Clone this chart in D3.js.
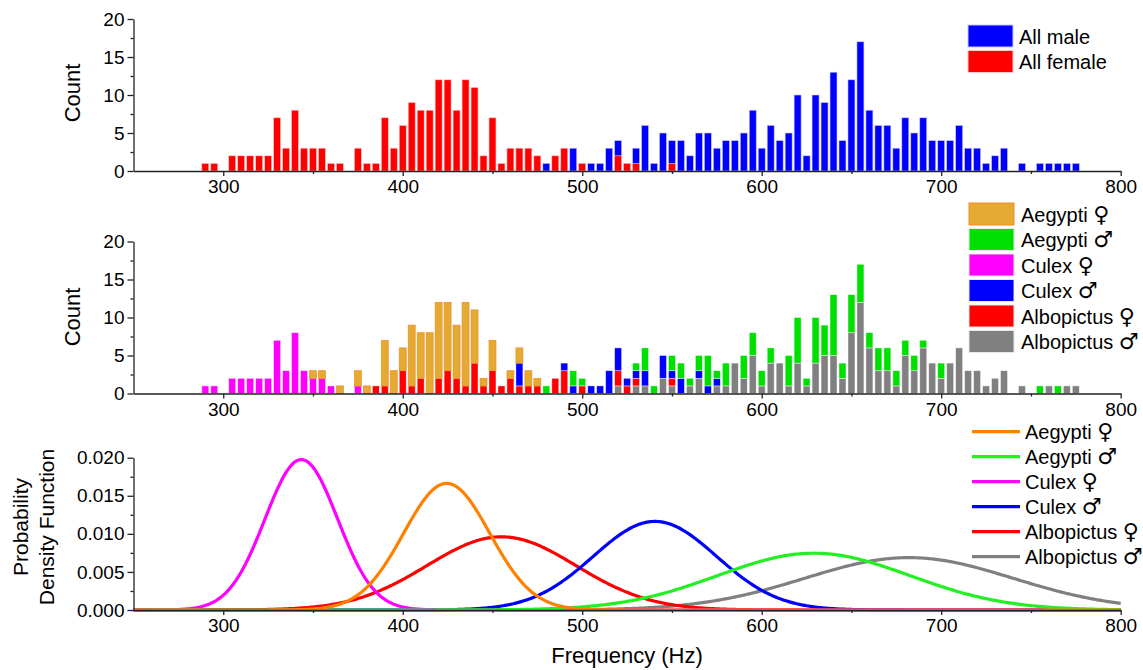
<!DOCTYPE html>
<html>
<head>
<meta charset="utf-8">
<script src="https://cdn.jsdelivr.net/npm/d3@7"></script>
<style>
  body { margin: 0; background: #fff; }
  svg text { font-family: Arial, "Liberation Sans", sans-serif; fill: #000; }
  .axis path, .axis line { stroke: #222; stroke-width: 1.3; }
  .axis text { font-size: 19px; font-family: Arial, "Liberation Sans", sans-serif; fill: #000; }
  .sym { font-family: "DejaVu Sans", sans-serif; }
</style>
</head>
<body>
<svg id="chart" width="1143" height="670"></svg>
<script>
// histogram bins (centre, Hz), 5 Hz wide, 250..795
var bins = d3.range(250, 800, 5);

// top panel, counts read per bin (rows of 10 bins = 50 Hz)
var allFemale = [
  0,0,0,0,0,0,0,0,1,1,
  0,2,2,2,2,2,7,3,8,3,
  3,3,1,1,0,3,1,1,7,3,
  6,9,8,8,12,12,8,12,11,2,
  7,1,3,3,3,2,0,2,3,0,
  1,0,0,0,2,1,1,0,0,0,
  1,0,0,0,0,0,0,0,0,0,
  0,0,0,0,0,0,0,0,0,0,
  0,0,0,0,0,0,0,0,0,0,
  0,0,0,0,0,0,0,0,0,0,
  0,0,0,0,0,0,0,0,0,0
];
var allMale = [
  0,0,0,0,0,0,0,0,0,0,
  0,0,0,0,0,0,0,0,0,0,
  0,0,0,0,0,0,0,0,0,0,
  0,0,0,0,0,0,0,0,0,0,
  0,0,0,3,0,0,1,0,1,3,
  1,1,1,3,4,1,3,6,1,5,
  4,4,2,5,5,3,4,4,5,8,
  3,6,4,5,10,2,10,9,13,4,
  12,17,8,6,6,3,7,5,7,4,
  4,4,6,3,3,1,2,3,0,1,
  0,1,1,1,1,1,0,0,0,0
];

// middle panel, per species
var aegyptiF = [
  0,0,0,0,0,0,0,0,0,0,
  0,0,0,0,0,0,0,0,0,0,
  1,1,0,1,0,2,1,0,6,3,
  3,8,6,8,10,9,7,11,7,1,
  4,0,1,2,2,1,0,0,0,0,
  0,0,0,0,0,0,0,0,0,0,
  0,0,0,0,0,0,0,0,0,0,
  0,0,0,0,0,0,0,0,0,0,
  0,0,0,0,0,0,0,0,0,0,
  0,0,0,0,0,0,0,0,0,0,
  0,0,0,0,0,0,0,0,0,0
];
var aegyptiM = [
  0,0,0,0,0,0,0,0,0,0,
  0,0,0,0,0,0,0,0,0,0,
  0,0,0,0,0,0,0,0,0,0,
  0,0,0,0,0,0,0,0,0,0,
  0,0,0,0,0,0,1,0,0,2,
  1,0,0,0,0,0,1,3,1,0,
  2,2,1,2,4,1,3,0,3,3,
  2,2,0,4,6,1,6,4,8,2,
  5,5,2,3,3,2,2,2,1,0,
  2,0,0,0,0,0,0,0,0,0,
  0,1,0,1,0,0,0,0,0,0
];
var culexF = [
  0,0,0,0,0,0,0,0,1,1,
  0,2,2,2,2,2,7,3,8,3,
  2,2,1,0,0,1,0,0,0,0,
  0,0,0,0,0,0,0,0,0,0,
  0,0,0,0,0,0,0,0,0,0,
  0,0,0,0,0,0,0,0,0,0,
  0,0,0,0,0,0,0,0,0,0,
  0,0,0,0,0,0,0,0,0,0,
  0,0,0,0,0,0,0,0,0,0,
  0,0,0,0,0,0,0,0,0,0,
  0,0,0,0,0,0,0,0,0,0
];
var culexM = [
  0,0,0,0,0,0,0,0,0,0,
  0,0,0,0,0,0,0,0,0,0,
  0,0,0,0,0,0,0,0,0,0,
  0,0,0,0,0,0,0,0,0,0,
  0,0,0,3,0,0,0,0,1,1,
  0,1,1,3,3,1,1,2,0,3,
  1,2,0,1,1,1,0,0,0,0,
  0,0,0,0,0,0,0,0,0,0,
  0,0,0,0,0,0,0,0,0,0,
  0,0,0,0,0,0,0,0,0,0,
  0,0,0,0,0,0,0,0,0,0
];
var albopictusF = [
  0,0,0,0,0,0,0,0,0,0,
  0,0,0,0,0,0,0,0,0,0,
  0,0,0,0,0,0,0,1,1,0,
  3,1,2,0,2,3,2,1,4,1,
  3,1,2,1,1,1,0,2,3,0,
  1,0,0,0,2,1,1,0,0,0,
  1,0,0,0,0,0,0,0,0,0,
  0,0,0,0,0,0,0,0,0,0,
  0,0,0,0,0,0,0,0,0,0,
  0,0,0,0,0,0,0,0,0,0,
  0,0,0,0,0,0,0,0,0,0
];
var albopictusM = [
  0,0,0,0,0,0,0,0,0,0,
  0,0,0,0,0,0,0,0,0,0,
  0,0,0,0,0,0,0,0,0,0,
  0,0,0,0,0,0,0,0,0,0,
  0,0,0,0,0,0,0,0,0,0,
  0,0,0,0,1,0,1,1,0,2,
  1,0,1,2,0,1,1,4,2,5,
  1,4,4,1,4,1,4,5,5,2,
  8,12,6,3,3,1,5,3,6,4,
  2,4,6,3,3,1,2,3,0,1,
  0,0,1,0,1,1,0,0,0,0
];

// bottom panel: fitted normal distributions (Hz)
var speciesNames = ["Aegypti", "Aegypti", "Culex", "Culex", "Albopictus", "Albopictus"];
var sexSymbols   = ["\u2640", "\u2642", "\u2640", "\u2642", "\u2640", "\u2642"];
var pdfMean = [424.5, 629, 343.5, 540.5, 455, 682];
var pdfSd   = [24, 53.5, 20.2, 34.3, 41.5, 58];

var barColors  = ["#e4aa31", "#00e000", "#ff00ff", "#0000ff", "#ff0000", "#808080"];
var lineColors = ["#ff7f00", "#22f022", "#ff00ff", "#0000ff", "#ff0000", "#808080"];

var svg = d3.select("#chart");

var x = d3.scaleLinear().domain([250, 800]).range([133.5, 1120.7]);
var binW = x(255) - x(250);

function drawXAxis(y0) {
    svg.append("g")
        .attr("class", "axis")
        .attr("transform", "translate(0," + y0 + ")")
        .call(d3.axisBottom(x).tickValues(d3.range(300, 801, 100)).tickSize(5).tickSizeOuter(0).tickPadding(4));
    svg.append("g")
        .attr("class", "axis")
        .attr("transform", "translate(0," + y0 + ")")
        .call(d3.axisBottom(x).tickValues(d3.range(350, 800, 100)).tickSize(3).tickSizeOuter(0).tickFormat(""))
        .select(".domain").remove();
}

function drawYAxis(y, major, minor, fmt) {
    svg.append("g")
        .attr("class", "axis")
        .attr("transform", "translate(" + x(250) + ",0)")
        .call(d3.axisLeft(y).tickValues(major).tickSize(6).tickSizeOuter(0).tickPadding(3).tickFormat(fmt));
    svg.append("g")
        .attr("class", "axis")
        .attr("transform", "translate(" + x(250) + ",0)")
        .call(d3.axisLeft(y).tickValues(minor).tickSize(3).tickFormat(""))
        .select(".domain").remove();
}

function legendLabel(xp, yp, i) {
    var t = svg.append("text").attr("x", xp).attr("y", yp).attr("font-size", "20px");
    t.append("tspan").text(speciesNames[i] + " ");
    t.append("tspan").attr("class", "sym").attr("font-size", "22px").text(sexSymbols[i]);
}

// ---------- top panel ----------
var yTop = d3.scaleLinear().domain([0, 20]).range([171, 19]);

var topRows = bins.map(function (b, i) { return { f: b, male: allMale[i], female: allFemale[i] }; });

svg.append("g").selectAll("rect")
    .data(topRows.filter(function (d) { return d.male > 0; }))
    .enter().append("rect")
    .attr("x", function (d) { return x(d.f) - binW / 2 + 1; })
    .attr("width", binW - 2)
    .attr("y", function (d) { return yTop(d.male); })
    .attr("height", function (d) { return yTop(0) - yTop(d.male); })
    .attr("fill", "#0000ff")
    .attr("stroke", "#c8c8ff").attr("stroke-width", 0.6);

svg.append("g").selectAll("rect")
    .data(topRows.filter(function (d) { return d.female > 0; }))
    .enter().append("rect")
    .attr("x", function (d) { return x(d.f) - binW / 2 + 1; })
    .attr("width", binW - 2)
    .attr("y", function (d) { return yTop(d.female); })
    .attr("height", function (d) { return yTop(0) - yTop(d.female); })
    .attr("fill", "#ff0000")
    .attr("stroke", "#ffc8c8").attr("stroke-width", 0.6);

drawXAxis(171);
drawYAxis(yTop, [0, 5, 10, 15, 20], [2.5, 7.5, 12.5, 17.5], d3.format("d"));

svg.append("text")
    .attr("transform", "translate(80,93) rotate(-90)")
    .attr("text-anchor", "middle")
    .attr("font-size", "22px")
    .text("Count");

var topLegend = [["All male", "#0000ff"], ["All female", "#ff0000"]];
topLegend.forEach(function (l, i) {
    svg.append("rect").attr("x", 968).attr("y", 25 + i * 25.5).attr("width", 45).attr("height", 22)
        .attr("fill", l[1]).attr("stroke", i ? "#ffc8c8" : "#c8c8ff");
    svg.append("text").attr("x", 1019).attr("y", 43.5 + i * 25.5).attr("font-size", "20px").text(l[0]);
});

// ---------- middle panel ----------
var yMid = d3.scaleLinear().domain([0, 20]).range([393.5, 241.5]);

var seriesArrays = [aegyptiF, aegyptiM, culexF, culexM, albopictusF, albopictusM];
var keys = ["aF", "aM", "cF", "cM", "bF", "bM"];
var midRows = bins.map(function (b, i) {
    var r = { f: b };
    keys.forEach(function (k, j) { r[k] = seriesArrays[j][i]; });
    return r;
});
// stacked bottom -> top in reverse legend order
var stackKeys = keys.slice().reverse();
var stacked = d3.stack().keys(stackKeys)(midRows);

svg.append("g").selectAll("g")
    .data(stacked)
    .enter().append("g")
    .each(function (s) {
        var j = keys.indexOf(s.key);
        d3.select(this).selectAll("rect")
            .data(s.filter(function (d) { return d[1] > d[0]; }))
            .enter().append("rect")
            .attr("x", function (d) { return x(d.data.f) - binW / 2 + 1; })
            .attr("width", binW - 2)
            .attr("y", function (d) { return yMid(d[1]); })
            .attr("height", function (d) { return yMid(d[0]) - yMid(d[1]); })
            .attr("fill", barColors[j])
            .attr("stroke", j === 0 ? "#f08c28" : "rgba(255,255,255,0.6)")
            .attr("stroke-width", 0.7);
    });

drawXAxis(393.5);
drawYAxis(yMid, [0, 5, 10, 15, 20], [2.5, 7.5, 12.5, 17.5], d3.format("d"));

svg.append("text")
    .attr("transform", "translate(80,317) rotate(-90)")
    .attr("text-anchor", "middle")
    .attr("font-size", "22px")
    .text("Count");

speciesNames.forEach(function (n, i) {
    svg.append("rect").attr("x", 969).attr("y", 203 + i * 25.5).attr("width", 45).attr("height", 22)
        .attr("fill", barColors[i]).attr("stroke", i === 0 ? "#f08c28" : "#e8e8e8");
    legendLabel(1021, 221.5 + i * 25.5, i);
});

// ---------- bottom panel ----------
var yPdf = d3.scaleLinear().domain([0, 0.02]).range([610, 457.7]);
var freqs = d3.range(250, 800.5, 1);

var line = d3.line()
    .x(function (d) { return x(d[0]); })
    .y(function (d) { return yPdf(d[1]); });

function normal(mu, sd) {
    return function (f) {
        return Math.exp(-(f - mu) * (f - mu) / (2 * sd * sd)) / (sd * Math.sqrt(2 * Math.PI));
    };
}

// drawn last-legend-first so orange ends on top
d3.range(5, -1, -1).forEach(function (i) {
    var g = normal(pdfMean[i], pdfSd[i]);
    svg.append("path")
        .datum(freqs.map(function (f) { return [f, g(f)]; }))
        .attr("d", line)
        .attr("fill", "none")
        .attr("stroke", lineColors[i])
        .attr("stroke-width", 3.2);
});

drawXAxis(610);
drawYAxis(yPdf, [0, 0.005, 0.01, 0.015, 0.02], [0.0025, 0.0075, 0.0125, 0.0175], d3.format(".3f"));

svg.append("text")
    .attr("transform", "translate(28,527) rotate(-90)")
    .attr("text-anchor", "middle")
    .attr("font-size", "21px")
    .text("Probability");
svg.append("text")
    .attr("transform", "translate(54,527) rotate(-90)")
    .attr("text-anchor", "middle")
    .attr("font-size", "21px")
    .text("Density Function");

svg.append("text")
    .attr("x", 627).attr("y", 663)
    .attr("text-anchor", "middle")
    .attr("font-size", "22px")
    .text("Frequency (Hz)");

speciesNames.forEach(function (n, i) {
    var ly = 431.7 + i * 25;
    svg.append("line").attr("x1", 972).attr("x2", 1020).attr("y1", ly).attr("y2", ly)
        .attr("stroke", lineColors[i]).attr("stroke-width", 3.2);
    legendLabel(1025, ly + 7, i);
});
</script>
</body>
</html>
